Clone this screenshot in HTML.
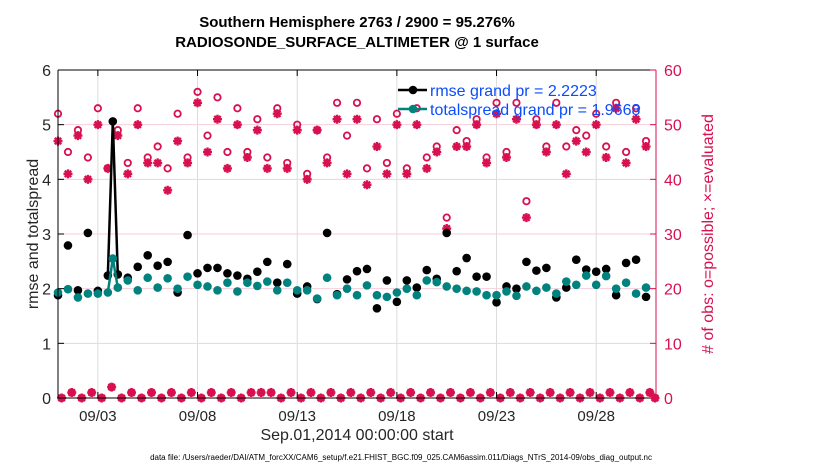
<!DOCTYPE html>
<html><head><meta charset="utf-8"><style>
body{margin:0;background:#fff;}
svg{display:block;font-family:"Liberation Sans",sans-serif;}
</style></head><body>
<svg id="chart" width="830" height="470" viewBox="0 0 830 470"></svg>
<script>
const rmse=[1.88,2.79,1.97,3.02,1.96,2.24,5.06,2.26,2.2,2.4,2.61,2.42,2.49,1.93,2.98,2.28,2.38,2.38,2.28,2.24,2.18,2.31,2.49,2.11,2.45,1.91,2.04,1.81,3.02,1.9,2.17,2.32,2.36,1.64,2.15,1.76,2.15,2.02,2.34,2.18,3.02,2.32,2.56,2.22,2.22,1.75,2.04,2.0,2.49,2.33,2.38,1.84,2.02,2.53,2.35,2.31,2.36,1.88,2.47,2.53,1.85];
const spread=[1.93,1.99,1.84,1.91,1.91,1.93,2.55,2.02,2.15,1.97,2.2,2.02,2.19,2.0,2.22,2.07,2.04,1.97,2.11,1.95,2.11,2.05,2.13,1.97,2.11,1.97,1.97,1.82,2.2,1.88,2.0,1.88,2.06,1.88,1.85,1.93,2.0,1.88,2.15,2.12,2.04,2.0,1.96,1.95,1.88,1.88,1.95,1.87,2.04,1.96,2.02,1.91,2.13,2.07,2.24,2.07,2.23,2.0,2.11,1.91,2.02];
const possible=[52,45,49,44,53,42,2,49,43,53,44,46,42,52,44,56,48,55,45,53,45,51,44,53,43,50,41,49,44,54,48,54,42,51,43,52,42,53,44,46,33,49,47,51,44,54,45,54,36,51,46,54,46,49,48,52,46,54,45,53,47];
const evaluated=[47,41,48,40,50,42,2,48,41,50,43,43,38,47,43,54,45,51,42,50,44,49,42,52,42,49,40,49,43,51,41,51,39,46,41,50,41,50,42,45,31,46,46,50,43,52,44,51,33,50,45,50,41,47,45,50,44,53,43,51,46];
const days=[0,0.5,1,1.5,2,2.5,2.75,3,3.5,4,4.5,5,5.5,6,6.5,7,7.5,8,8.5,9,9.5,10,10.5,11,11.5,12,12.5,13,13.5,14,14.5,15,15.5,16,16.5,17,17.5,18,18.5,19,19.5,20,20.5,21,21.5,22,22.5,23,23.5,24,24.5,25,25.5,26,26.5,27,27.5,28,28.5,29,29.5];
const bottomCounts=[0,1,0,1,0,2,0,1,0,1,0,1,0,1,0,1,0,1,0,1,1,1,0,1,0,1,0,1,0,1,0,1,0,1,0,1,0,1,0,1,0,1,0,1,0,1,0,1,0,1,0,1,0,1,0,1,0,1,0,1,0];
const bottomDays=[0.18,0.69,1.19,1.69,2.19,2.69,3.19,3.69,4.19,4.69,5.19,5.69,6.19,6.69,7.19,7.69,8.19,8.69,9.19,9.69,10.19,10.69,11.19,11.69,12.19,12.69,13.19,13.69,14.19,14.69,15.19,15.69,16.19,16.69,17.19,17.69,18.19,18.69,19.19,19.69,20.19,20.69,21.19,21.69,22.19,22.69,23.19,23.69,24.19,24.69,25.19,25.69,26.19,26.69,27.19,27.69,28.19,28.69,29.19,29.69,29.95];
const xTickDays=[2,7,12,17,22,27];
const xTickLabels=["09/03","09/08","09/13","09/18","09/23","09/28"];
const yLeftTicks=[0,1,2,3,4,5,6];
const yRightTicks=[0,10,20,30,40,50,60];

const L=58,R=656,T=70,B=398;
const X=d=>L+d*(R-L)/30;
const YL=v=>B-v*(B-T)/6;
const YR=v=>B-v*(B-T)/60;
const RED="#d8104f",TEAL="#00827f";
const svg=document.getElementById('chart');
const NS="http://www.w3.org/2000/svg";
function mk(tag,attrs,parent){const e=document.createElementNS(NS,tag);for(const k in attrs)e.setAttribute(k,attrs[k]);(parent||svg).appendChild(e);return e;}

// grids
xTickDays.forEach((d,i)=>{
  const g=mk('line',{x1:X(d),x2:X(d),y1:T,y2:B,stroke:'#dcdcdc','stroke-width':1});
  
  
});
yRightTicks.slice(1,-1).forEach(v=>{
  const g=mk('line',{x1:L,x2:R,y1:YR(v),y2:YR(v),stroke:'#f6cfdc','stroke-width':1});
  
  
});

// count markers
function star(x,y,parent){
  const s=4.5,d=3.2;
  const p=mk('path',{d:`M${x-s},${y}H${x+s}M${x},${y-s}V${y+s}M${x-d},${y-d}L${x+d},${y+d}M${x-d},${y+d}L${x+d},${y-d}`,stroke:RED,'stroke-width':2.4,fill:'none'},parent);
  return p;
}
const cg=mk('g',{});


days.forEach((d,i)=>{
  if(possible[i]>5){
    const c=mk('circle',{cx:X(d),cy:YR(possible[i]),r:3.2,fill:'none',stroke:RED,'stroke-width':1.8},cg);
    
    
    const s=star(X(d),YR(evaluated[i]),cg);
    
    
  }
});
bottomDays.forEach((d,i)=>{
  const c=mk('circle',{cx:X(d),cy:YR(bottomCounts[i]),r:3.2,fill:RED,stroke:RED,'stroke-width':1.8},cg);
  
  
  const s=star(X(d),YR(bottomCounts[i]),cg);
  
  
});

// series lines (only connect close points)
function series(vals,color,name){
  const g=mk('g',{});
  
  
  for(let i=1;i<days.length;i++){
    if(days[i]-days[i-1]<0.4){
      const l=mk('line',{x1:X(days[i-1]),y1:YL(vals[i-1]),x2:X(days[i]),y2:YL(vals[i]),stroke:color,'stroke-width':2.5},g);
      
      
    }
  }
  vals.forEach((v,i)=>{
    const c=mk('circle',{cx:X(days[i]),cy:YL(v),r:4.3,fill:color},g);
    
    
  });
}
series(rmse,'#000','rmse-series');
series(spread,TEAL,'totalspread-series');

// axes
mk('line',{x1:L,x2:R,y1:T,y2:T,stroke:'#000','stroke-width':1});
mk('line',{x1:L,x2:R,y1:B,y2:B,stroke:'#000','stroke-width':1});
mk('line',{x1:L,x2:L,y1:T,y2:B,stroke:'#000','stroke-width':1});
mk('line',{x1:R,x2:R,y1:T,y2:B,stroke:RED,'stroke-width':1});
xTickDays.forEach((d,i)=>{
  mk('line',{x1:X(d),x2:X(d),y1:B,y2:B-6,stroke:'#000'});
  mk('line',{x1:X(d),x2:X(d),y1:T,y2:T+6,stroke:'#000'});
  const t=mk('text',{x:X(d),y:B+23,'text-anchor':'middle','font-size':15,fill:'#262626'});
  t.textContent=xTickLabels[i];
  
  
});
yLeftTicks.forEach(v=>{
  mk('line',{x1:L,x2:L+6,y1:YL(v),y2:YL(v),stroke:'#000'});
  const t=mk('text',{x:L-7,y:YL(v)+6,'text-anchor':'end','font-size':16,fill:'#262626'});
  t.textContent=v;
  
  
});
yRightTicks.forEach(v=>{
  mk('line',{x1:R-6,x2:R,y1:YR(v),y2:YR(v),stroke:RED});
  const t=mk('text',{x:R+8,y:YR(v)+6,'text-anchor':'start','font-size':16,fill:RED});
  t.textContent=v;
  
  
});
</script>
<svg width="830" height="470" style="position:absolute;left:0;top:0" font-family="Liberation Sans, sans-serif">
  <text x="357" y="27" text-anchor="middle" font-size="15" font-weight="bold" fill="#000">Southern Hemisphere 2763 / 2900 = 95.276%</text>
  <text x="357" y="47" text-anchor="middle" font-size="15" font-weight="bold" fill="#000">RADIOSONDE_SURFACE_ALTIMETER @ 1 surface</text>
  <text transform="translate(38,234) rotate(-90)" text-anchor="middle" font-size="16" fill="#262626">rmse and totalspread</text>
  <text transform="translate(713,234) rotate(-90)" text-anchor="middle" font-size="16" fill="#d8104f"># of obs: o=possible; ×=evaluated</text>
  <text x="357" y="440" text-anchor="middle" font-size="16" fill="#262626">Sep.01,2014 00:00:00 start</text>
  <text x="401" y="460" text-anchor="middle" font-size="8" fill="#000">data file: /Users/raeder/DAI/ATM_forcXX/CAM6_setup/f.e21.FHIST_BGC.f09_025.CAM6assim.011/Diags_NTrS_2014-09/obs_diag_output.nc</text>
  <g>
    <line x1="398" x2="427" y1="90" y2="90" stroke="#000" stroke-width="2.5"/>
    <circle cx="413" cy="90" r="4.3" fill="#000"/>
    <text x="430" y="96" font-size="16" fill="#0a4dff">rmse grand pr = 2.2223</text>
    <line x1="398" x2="427" y1="109" y2="109" stroke="#00827f" stroke-width="2.5"/>
    <circle cx="413" cy="109" r="4.3" fill="#00827f"/>
    <text x="430" y="115" font-size="16" fill="#0a4dff">totalspread grand pr = 1.9668</text>
  </g>
</svg>
</body></html>
